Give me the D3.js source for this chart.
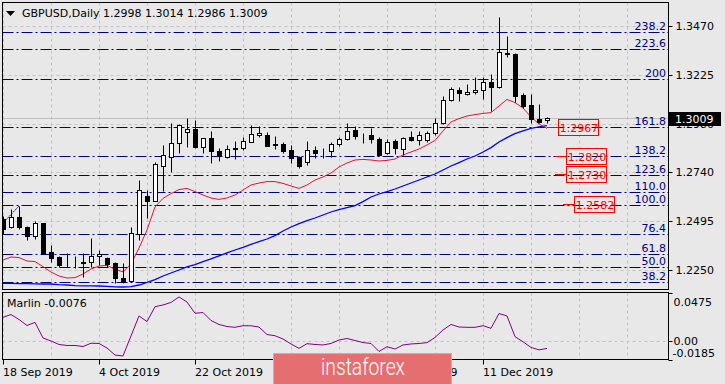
<!DOCTYPE html>
<html>
<head>
<meta charset="utf-8">
<script src="https://cdn.jsdelivr.net/npm/d3@7"></script>
<style>
    body { margin: 0; background: #e8e8e8; }
    svg { display: block; }
    text { font-family: "DejaVu Sans", sans-serif; font-size: 11px; }
</style>
</head>
<body>
<div id="chart"></div>
<script>
// Daily GBPUSD bars, 18 Sep 2019 .. 23 Dec 2019
const open = [
    1.2505, 1.2463, 1.2513, 1.2463, 1.2421, 1.2483, 1.2338, 1.2315, 1.2287, 1.2286,
    1.2287, 1.2288, 1.2320, 1.2310, 1.2283, 1.2208, 1.2196, 1.2430, 1.2620, 1.2596,
    1.2771, 1.2816, 1.2883, 1.2941, 1.2953, 1.2866, 1.2908, 1.2845, 1.2813, 1.2856,
    1.2858, 1.2891, 1.2925, 1.2925, 1.2878, 1.2878, 1.2848, 1.2813, 1.2791, 1.2848,
    1.2842, 1.2843, 1.2878, 1.2903, 1.2950, 1.2925, 1.2925, 1.2903, 1.2833, 1.2895,
    1.2855, 1.2916, 1.2900, 1.2900, 1.2933, 1.2986, 1.3100, 1.3150, 1.3128, 1.3138,
    1.3150, 1.3188, 1.3166, 1.3336, 1.3330, 1.3123, 1.3073, 1.3005, 1.2998
];
const high = [
    1.2520, 1.2553, 1.2570, 1.2471, 1.2495, 1.2486, 1.2375, 1.2321, 1.2336, 1.2320,
    1.2333, 1.2408, 1.2350, 1.2316, 1.2291, 1.2283, 1.2466, 1.2700, 1.2650, 1.2791,
    1.2875, 1.2983, 1.2980, 1.3008, 1.3000, 1.2910, 1.2946, 1.2858, 1.2875, 1.2896,
    1.2913, 1.2975, 1.2970, 1.2941, 1.2920, 1.2891, 1.2875, 1.2820, 1.2895, 1.2870,
    1.2860, 1.2888, 1.2916, 1.2983, 1.2970, 1.2933, 1.2961, 1.2913, 1.2903, 1.2903,
    1.2913, 1.2946, 1.2946, 1.2946, 1.3008, 1.3120, 1.3163, 1.3163, 1.3180, 1.3213,
    1.3216, 1.3230, 1.3516, 1.3420, 1.3335, 1.3133, 1.3128, 1.3078, 1.3014
];
const low = [
    1.2430, 1.2460, 1.2455, 1.2400, 1.2406, 1.2333, 1.2291, 1.2266, 1.2266, 1.2260,
    1.2216, 1.2266, 1.2273, 1.2266, 1.2183, 1.2183, 1.2191, 1.2400, 1.2508, 1.2595,
    1.2646, 1.2741, 1.2833, 1.2866, 1.2858, 1.2836, 1.2783, 1.2796, 1.2808, 1.2803,
    1.2850, 1.2890, 1.2916, 1.2870, 1.2855, 1.2836, 1.2786, 1.2761, 1.2775, 1.2808,
    1.2811, 1.2816, 1.2870, 1.2900, 1.2903, 1.2883, 1.2883, 1.2820, 1.2830, 1.2828,
    1.2825, 1.2896, 1.2873, 1.2891, 1.2925, 1.2980, 1.3095, 1.3096, 1.3125, 1.3128,
    1.3103, 1.3046, 1.3158, 1.3316, 1.3091, 1.3058, 1.2983, 1.2983, 1.2986
];
const close = [
    1.2455, 1.2513, 1.2463, 1.2421, 1.2483, 1.2336, 1.2311, 1.2275, 1.2286, 1.2287,
    1.2288, 1.2320, 1.2330, 1.2280, 1.2208, 1.2188, 1.2433, 1.2650, 1.2596, 1.2780,
    1.2825, 1.2883, 1.2975, 1.2955, 1.2866, 1.2908, 1.2846, 1.2821, 1.2853, 1.2858,
    1.2896, 1.2930, 1.2936, 1.2871, 1.2877, 1.2846, 1.2811, 1.2770, 1.2848, 1.2836,
    1.2841, 1.2880, 1.2905, 1.2946, 1.2921, 1.2924, 1.2903, 1.2825, 1.2891, 1.2858,
    1.2911, 1.2900, 1.2925, 1.2933, 1.2986, 1.3100, 1.3153, 1.3133, 1.3138, 1.3150,
    1.3188, 1.3163, 1.3338, 1.3328, 1.3121, 1.3070, 1.3005, 1.2991, 1.3009
];

// moving averages drawn on the chart
const fastMA = [
    1.2300, 1.2315, 1.2312, 1.2295, 1.2292, 1.2267, 1.2240, 1.2220, 1.2210, 1.2212,
    1.2230, 1.2255, 1.2270, 1.2273, 1.2253, 1.2241, 1.2280, 1.2360, 1.2450, 1.2565,
    1.2608, 1.2632, 1.2652, 1.2658, 1.2642, 1.2625, 1.2610, 1.2603, 1.2610, 1.2625,
    1.2650, 1.2675, 1.2685, 1.2692, 1.2692, 1.2683, 1.2670, 1.2658, 1.2675, 1.2700,
    1.2715, 1.2735, 1.2765, 1.2785, 1.2800, 1.2803, 1.2800, 1.2795, 1.2798, 1.2805,
    1.2825, 1.2840, 1.2855, 1.2875, 1.2898, 1.2945, 1.2990, 1.3007, 1.3020, 1.3027,
    1.3033, 1.3037, 1.3070, 1.3103, 1.3087, 1.3060, 1.3015, 1.2980, 1.2958
];
const slowMA = [
    1.2183, 1.2183, 1.2182, 1.2182, 1.2181, 1.2180, 1.2180, 1.2177, 1.2175, 1.2172,
    1.2171, 1.2171, 1.2170, 1.2168, 1.2166, 1.2165, 1.2167, 1.2175, 1.2188, 1.2202,
    1.2220, 1.2235, 1.2250, 1.2266, 1.2277, 1.2292, 1.2306, 1.2321, 1.2336, 1.2350,
    1.2363, 1.2378, 1.2392, 1.2405, 1.2422, 1.2445, 1.2465, 1.2482, 1.2497, 1.2510,
    1.2525, 1.2540, 1.2552, 1.2562, 1.2572, 1.2592, 1.2615, 1.2630, 1.2642, 1.2655,
    1.2670, 1.2685, 1.2700, 1.2715, 1.2730, 1.2750, 1.2770, 1.2787, 1.2805, 1.2820,
    1.2840, 1.2862, 1.2890, 1.2912, 1.2932, 1.2946, 1.2958, 1.2966, 1.2972
];

// Marlin oscillator
const marlin = [
    0.0231, 0.0258, 0.0209, 0.0150, 0.0181, 0.0027, -0.0003, -0.0037, -0.0047, -0.0047,
    -0.0057, -0.0025, -0.0027, -0.0072, -0.0141, -0.0150, 0.0047, 0.0244, 0.0189, 0.0335,
    0.0352, 0.0377, 0.0431, 0.0381, 0.0270, 0.0278, 0.0199, 0.0160, 0.0140, 0.0132,
    0.0148, 0.0147, 0.0135, 0.0061, 0.0049, 0.0017, -0.0032, -0.0075, -0.0029, -0.0037,
    -0.0042, -0.0027, 0.0007, 0.0022, 0.0002, -0.0018, -0.0027, -0.0106, -0.0059, -0.0082,
    -0.0042, -0.0032, -0.0027, -0.0019, 0.0032, 0.0106, 0.0160, 0.0135, 0.0132, 0.0132,
    0.0148, 0.0122, 0.0268, 0.0244, 0.0040, -0.0010, -0.0066, -0.0090, -0.0076
];

// fibonacci levels
const fibLabels = ["23.6", "38.2", "50.0", "61.8", "76.4", "100.0", "110.0", "123.6", "138.2", "161.8", "200", "223.6", "238.2"];
const fibPrices = [1.2095, 1.2189, 1.2264, 1.2332, 1.2429, 1.2574, 1.2639, 1.2725, 1.2822, 1.2965, 1.3204, 1.3354, 1.3442];
const fibTrendBars = [0, 2];
const fibTrendPrices = [1.2485, 1.2570];

// red price labels
const noteBars = [68, 69, 69, 70];
const notePrices = [1.2967, 1.2820, 1.2730, 1.2582];

// axis ticks
const priceTicks = [1.3470, 1.3225, 1.2980, 1.2740, 1.2495, 1.2250];
const oscTicks = [0.0475, 0.00, -0.0185];
const oscTickLabels = ["0.0475", "0.00", "-0.0185"];
const dateBars = [0, 12, 24, 36, 48, 60];
const dateLabels = ["18 Sep 2019", "4 Oct 2019", "22 Oct 2019", "7 Nov 2019", "25 Nov 2019", "11 Dec 2019"];

const header = "GBPUSD,Daily";
const headerValues = "1.2998 1.3014 1.2986 1.3009";
const lastPrice = 1.3009;

const svgWidth = 725, svgHeight = 384;
const panel = { left: 2.5, right: 668.5, top: 2.5, bottom: 289.5 };
const oscPanel = { top: 292.5, bottom: 359.5 };

const svg = d3.select("#chart")
    .append("svg")
    .attr("width", svgWidth)
    .attr("height", svgHeight);

svg.append("rect").attr("width", svgWidth).attr("height", svgHeight).attr("fill", "#e8e8e8");

// scales
const x = d3.scaleLinear().domain([0, 68]).range([3, 547]);
const y = d3.scaleLinear().domain([1.21525, 1.3590]).range([289.5, 2]);
const yOsc = d3.scaleLinear().domain([-0.0185, 0.0475]).range([oscPanel.bottom, oscPanel.top]);
const px = v => Math.round(v) + 0.5;

const defs = svg.append("defs");
defs.append("clipPath").attr("id", "clipMain").append("rect")
    .attr("x", panel.left).attr("y", panel.top)
    .attr("width", panel.right - panel.left).attr("height", panel.bottom - panel.top);
defs.append("clipPath").attr("id", "clipOsc").append("rect")
    .attr("x", panel.left).attr("y", oscPanel.top)
    .attr("width", panel.right - panel.left).attr("height", oscPanel.bottom - oscPanel.top);

const gMain = svg.append("g").attr("clip-path", "url(#clipMain)");
const gOsc = svg.append("g").attr("clip-path", "url(#clipOsc)");

// grid
const gridBars = d3.range(0, 79, 6);
[gMain, gOsc].forEach((g, i) => {
    g.selectAll("line.vgrid").data(gridBars).enter().append("line")
        .attr("class", "vgrid")
        .attr("x1", d => px(x(d))).attr("x2", d => px(x(d)))
        .attr("y1", i ? oscPanel.top : panel.top).attr("y2", i ? oscPanel.bottom : panel.bottom)
        .attr("stroke", "#c4c4c4").attr("stroke-dasharray", "3,3");
});
gMain.selectAll("line.hgrid").data(priceTicks).enter().append("line")
    .attr("x1", panel.left).attr("x2", panel.right)
    .attr("y1", d => px(y(d))).attr("y2", d => px(y(d)))
    .attr("stroke", "#c4c4c4").attr("stroke-dasharray", "3,3");
gOsc.append("line")
    .attr("x1", panel.left).attr("x2", panel.right)
    .attr("y1", px(yOsc(0))).attr("y2", px(yOsc(0)))
    .attr("stroke", "#c4c4c4").attr("stroke-dasharray", "3,3");

// bid line
gMain.append("line")
    .attr("x1", panel.left).attr("x2", panel.right)
    .attr("y1", px(y(lastPrice))).attr("y2", px(y(lastPrice)))
    .attr("stroke", "#c0c0c0");

// fibonacci lines
gMain.selectAll("line.fib").data(fibPrices).enter().append("line")
    .attr("x1", panel.left).attr("x2", panel.right)
    .attr("y1", d => px(y(d))).attr("y2", d => px(y(d)))
    .attr("stroke", "#000080").attr("stroke-dasharray", "11,3,2,3");
gMain.selectAll("text.fib").data(fibLabels).enter().append("text")
    .attr("x", 666).attr("y", (d, i) => Math.round(y(fibPrices[i])) - 2)
    .attr("text-anchor", "end").attr("fill", "#000080")
    .text(d => d);
gMain.append("line")
    .attr("x1", x(fibTrendBars[0])).attr("y1", y(fibTrendPrices[0]))
    .attr("x2", x(fibTrendBars[1])).attr("y2", y(fibTrendPrices[1]))
    .attr("stroke", "#000080").attr("stroke-dasharray", "2,1");

// moving averages
const maLine = d3.line().x((d, i) => x(i)).y(d => y(d));
gMain.append("path").datum(slowMA)
    .attr("fill", "none").attr("stroke", "#0000ff").attr("stroke-width", 1.3).attr("d", maLine);
gMain.append("path").datum(fastMA)
    .attr("fill", "none").attr("stroke", "#dc143c").attr("stroke-width", 1).attr("d", maLine);

// candles
const bars = open.map((o, i) => ({ i, o, h: high[i], l: low[i], c: close[i] }));
const candle = gMain.selectAll("g.candle").data(bars).enter().append("g");
candle.append("line")
    .attr("x1", d => px(x(d.i))).attr("x2", d => px(x(d.i)))
    .attr("y1", d => px(y(d.h))).attr("y2", d => px(y(d.l)))
    .attr("stroke", "#000");
candle.append("rect")
    .attr("x", d => px(x(d.i)) - 2)
    .attr("y", d => px(y(Math.max(d.o, d.c))))
    .attr("width", 4)
    .attr("height", d => Math.max(0, px(y(Math.min(d.o, d.c))) - px(y(Math.max(d.o, d.c)))))
    .attr("fill", d => d.c >= d.o ? "#ffffff" : "#000000")
    .attr("stroke", "#000");

// red price notes
const note = gMain.selectAll("g.note").data(notePrices).enter().append("g");
note.append("line")
    .attr("x1", (d, i) => x(noteBars[i])).attr("x2", (d, i) => x(noteBars[i]) + 11)
    .attr("y1", d => px(y(d))).attr("y2", d => px(y(d)))
    .attr("stroke", "#ff0000");
note.append("rect")
    .attr("x", (d, i) => Math.round(x(noteBars[i]) + 11) + 0.5)
    .attr("y", d => px(y(d)) - 8)
    .attr("width", 40).attr("height", 16)
    .attr("fill", "none").attr("stroke", "#ff0000");
note.append("text")
    .attr("x", (d, i) => Math.round(x(noteBars[i]) + 11) + 21)
    .attr("y", d => px(y(d)) + 4)
    .attr("text-anchor", "middle").attr("fill", "#ff0000")
    .text(d => d.toFixed(4));

// oscillator line
const oscLine = d3.line().x((d, i) => x(i)).y(d => yOsc(d));
gOsc.append("path").datum(marlin)
    .attr("fill", "none").attr("stroke", "#800080").attr("stroke-width", 1).attr("d", oscLine);

// panel borders
svg.append("rect")
    .attr("x", panel.left).attr("y", panel.top)
    .attr("width", panel.right - panel.left).attr("height", panel.bottom - panel.top)
    .attr("fill", "none").attr("stroke", "#000");
svg.append("rect")
    .attr("x", panel.left).attr("y", oscPanel.top)
    .attr("width", panel.right - panel.left).attr("height", oscPanel.bottom - oscPanel.top)
    .attr("fill", "none").attr("stroke", "#000");

// price axis
const priceAxis = svg.append("g").attr("transform", `translate(${panel.right},0)`);
priceAxis.selectAll("line").data(priceTicks).enter().append("line")
    .attr("x1", 0).attr("x2", 4)
    .attr("y1", d => px(y(d))).attr("y2", d => px(y(d)))
    .attr("stroke", "#000");
priceAxis.selectAll("text").data(priceTicks).enter().append("text")
    .attr("x", 7).attr("y", d => Math.round(y(d)) + 4)
    .attr("fill", "#000")
    .text(d3.format(".4f"));

// current price box
svg.append("rect")
    .attr("x", 669).attr("y", Math.round(y(lastPrice)) - 6)
    .attr("width", 52).attr("height", 14)
    .attr("fill", "#000");
svg.append("text")
    .attr("x", 675).attr("y", Math.round(y(lastPrice)) + 5)
    .attr("fill", "#fff")
    .text(lastPrice.toFixed(4));

// oscillator axis
const oscAxis = svg.append("g").attr("transform", `translate(${panel.right},0)`);
oscAxis.selectAll("line").data(oscTicks).enter().append("line")
    .attr("x1", 0).attr("x2", 4)
    .attr("y1", d => px(yOsc(d))).attr("y2", d => px(yOsc(d)))
    .attr("stroke", "#000");
oscAxis.selectAll("text").data(oscTicks).enter().append("text")
    .attr("x", (d, i) => i === 2 ? 4 : 5)
    .attr("y", (d, i) => Math.round(yOsc(d)) + [13, 4, -3][i])
    .attr("fill", "#000")
    .text((d, i) => oscTickLabels[i]);

// time axis
const timeAxis = svg.append("g");
timeAxis.selectAll("line").data(dateBars).enter().append("line")
    .attr("x1", d => px(x(d))).attr("x2", d => px(x(d)))
    .attr("y1", oscPanel.bottom).attr("y2", oscPanel.bottom + 5)
    .attr("stroke", "#000");
timeAxis.selectAll("text").data(dateBars).enter().append("text")
    .attr("x", d => Math.round(x(d)))
    .attr("y", 376)
    .attr("fill", "#000")
    .text((d, i) => dateLabels[i]);

// header texts
svg.append("path").attr("d", "M6,11 L15,11 L10.5,16 Z").attr("fill", "#000");
svg.append("text").attr("x", 22).attr("y", 17).attr("fill", "#000").text(header);
svg.append("text").attr("x", 103).attr("y", 17).attr("fill", "#000").text(headerValues);
svg.append("text").attr("x", 7).attr("y", 307).attr("fill", "#000")
    .text("Marlin " + marlin[marlin.length - 1].toFixed(4));

// watermark
svg.append("rect")
    .attr("x", 273.5).attr("y", 353.5).attr("width", 178).attr("height", 40)
    .attr("fill", "#e56f70").attr("stroke", "#f09c9c");
svg.append("text")
    .attr("x", 363).attr("y", 375)
    .attr("text-anchor", "middle").attr("fill", "#ffffff")
    .style("font-family", "Roboto, sans-serif").style("font-size", "23px").style("font-weight", 300)
    .attr("textLength", 84).attr("lengthAdjust", "spacingAndGlyphs")
    .text("instaforex");
</script>
</body>
</html>
